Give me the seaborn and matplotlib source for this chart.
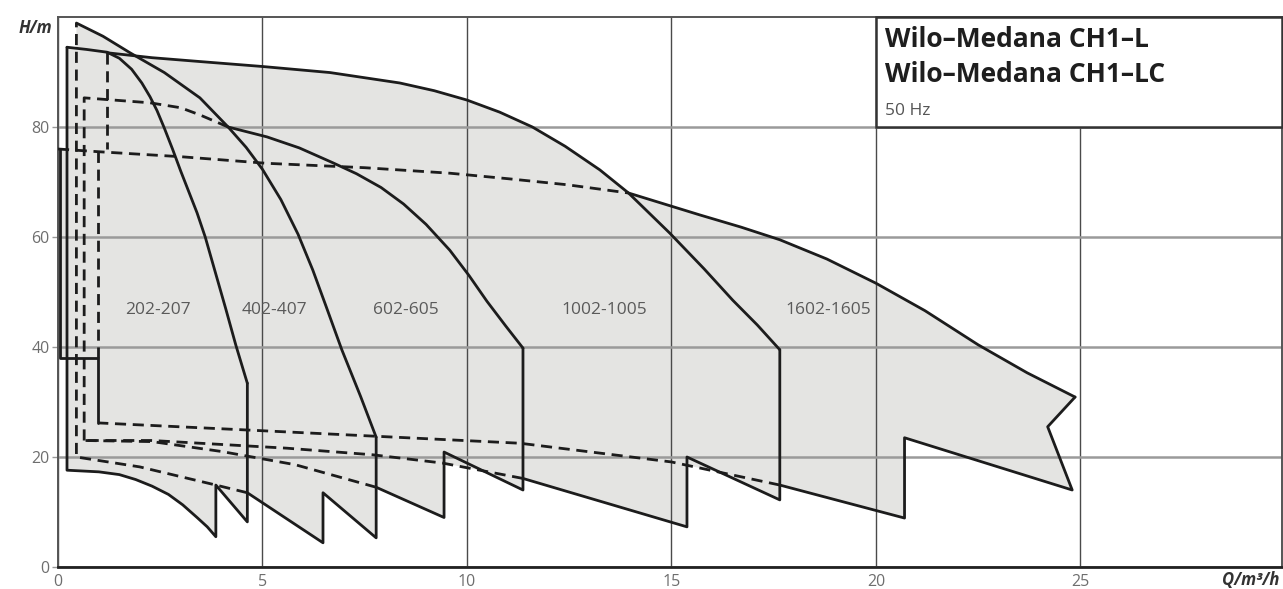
import matplotlib
matplotlib.use("Agg")
import matplotlib.pyplot as plt
from matplotlib.patches import Rectangle
import seaborn as sns

sns.set_theme(style="white")
plt.rcParams["font.family"] = ["Open Sans", "DejaVu Sans"]

LINE = "#1c1c1c"
FILL = "#e4e4e2"
DASH = (0, (4, 2.4))

# ---- data (Q in m3/h, H in m) ----
# 202-207
q202_top = [0.22, 0.7, 1.2, 1.5, 1.8, 2.05, 2.25, 2.42, 2.6, 2.8, 3.0, 3.2, 3.4,
            3.6, 3.85, 4.1, 4.35, 4.63]
h202_top = [94.5, 94.1, 93.6, 92.5, 90.5, 88.0, 85.5, 83.0, 79.8, 76.0, 72.0, 68.2,
            64.4, 60.0, 53.5, 47.0, 40.3, 33.4]
q202_bot = [4.63, 4.63, 3.86, 3.86, 3.65, 3.4, 3.05, 2.7, 2.3, 1.9, 1.5, 1.0, 0.22, 0.22]
h202_bot = [33.4, 8.2, 14.9, 5.5, 7.3, 9.0, 11.3, 13.2, 14.7, 15.9, 16.8, 17.3, 17.6, 94.5]

# 402-407
q402_top = [0.45, 1.1, 1.76, 2.6, 3.47, 4.16, 4.6, 5.0, 5.45, 5.87, 6.23, 6.55, 6.94,
            7.4, 7.78]
h402_top = [98.9, 96.5, 93.5, 89.9, 85.3, 80.0, 76.3, 72.3, 66.8, 60.5, 54.0, 47.5,
            39.5, 31.0, 23.6]
q402_teeth = [7.78, 7.78, 6.48, 6.48, 4.63]
h402_teeth = [23.6, 5.3, 13.5, 4.4, 13.5]
q402_lc = [4.63, 3.86, 2.0, 0.45, 0.45]
h402_lc = [13.5, 14.9, 18.2, 20.0, 98.9]

# 602-605
q602_lc_top = [0.64, 0.64, 2.25, 3.0, 3.47, 4.16]
h602_lc_top = [23.0, 85.3, 84.4, 83.5, 82.2, 80.0]
q602_top = [4.16, 5.11, 5.9, 6.72, 7.3, 7.9, 8.45, 9.0, 9.58, 10.05, 10.49, 10.95, 11.37]
h602_top = [80.0, 78.2, 76.2, 73.5, 71.5, 69.0, 66.0, 62.3, 57.6, 53.0, 48.3, 43.8, 39.8]
q602_teeth = [11.37, 11.37, 9.44, 9.44, 7.78]
h602_teeth = [39.8, 14.0, 20.9, 9.0, 14.5]
q602_lc = [7.78, 5.8, 4.0, 2.3, 0.64]
h602_lc = [14.5, 18.6, 21.0, 22.8, 23.0]

# 1002-1005
q1002_top = [1.2, 2.3, 3.47, 5.0, 6.65, 8.36, 9.2, 10.0, 10.8, 11.6, 12.4, 13.25,
             13.95, 14.96, 15.8, 16.5, 17.1, 17.65]
h1002_top = [93.5, 92.6, 91.9, 91.0, 89.9, 88.0, 86.6, 84.9, 82.7, 80.0, 76.5, 72.2,
             68.0, 60.7, 54.2, 48.5, 44.0, 39.5]
q1002_teeth = [17.65, 17.65, 15.38, 15.38, 11.37]
h1002_teeth = [39.5, 12.2, 20.0, 7.3, 16.1]
q1002_lc = [11.37, 9.4, 7.7, 5.6, 2.3, 0.7]
h1002_lc = [16.1, 18.9, 20.4, 21.6, 23.0, 23.0]
q1002_left = [1.2, 1.2]
h1002_left = [93.5, 76.0]

# 1602-1605
q1602_lc_top = [0.0, 1.0, 3.0, 5.1, 7.5, 9.58, 11.0, 12.45, 13.95]
h1602_lc_top = [76.0, 75.5, 74.6, 73.4, 72.6, 71.6, 70.6, 69.5, 68.0]
q1602_top = [13.95, 15.0, 15.7, 16.7, 17.65, 18.8, 20.0, 21.2, 22.5, 23.7, 24.87]
h1602_top = [68.0, 65.6, 64.0, 61.8, 59.5, 56.0, 51.6, 46.6, 40.4, 35.3, 30.9]
q1602_teeth = [24.87, 24.2, 24.8, 20.7, 20.7, 17.65]
h1602_teeth = [30.9, 25.5, 14.0, 23.5, 8.9, 14.9]
q1602_lc = [17.65, 15.0, 11.3, 4.65, 0.98]
h1602_lc = [14.9, 19.1, 22.5, 24.9, 26.2]
q1602_left = [0.98, 0.98, 0.05, 0.05]
h1602_left = [26.2, 38.0, 38.0, 76.0]
q1602_lc_left = [0.98, 0.98]
h1602_lc_left = [38.0, 75.5]

series_labels = ["202-207", "402-407", "602-605", "1002-1005", "1602-1605"]
label_q = [2.45, 5.29, 8.5, 13.36, 18.83]
label_h = 46.7

x_ticks = [0, 5, 10, 15, 20, 25]
y_ticks = [0, 20, 40, 60, 80]

# ---- figure ----
fig = plt.figure(figsize=(12.83, 5.89), dpi=100)
ax = fig.add_axes([58 / 1283, 1 - 567 / 589, 1224 / 1283, 550 / 589])
ax.set_xlim(0, 29.93)
ax.set_ylim(0, 100)

# gray envelope (union of the five ranges)
polys = [
    (q202_top + q202_bot, h202_top + h202_bot),
    (q402_top + q402_teeth + q402_lc, h402_top + h402_teeth + h402_lc),
    (q602_lc_top + q602_top + q602_teeth + q602_lc,
     h602_lc_top + h602_top + h602_teeth + h602_lc),
    (q1002_top + q1002_teeth + q1002_lc, h1002_top + h1002_teeth + h1002_lc),
    (q1602_lc_top + q1602_top + q1602_teeth + q1602_lc + q1602_left,
     h1602_lc_top + h1602_top + h1602_teeth + h1602_lc + h1602_left),
]
for qq, hh in polys:
    ax.fill(qq, hh, color=FILL, lw=0, zorder=1)


def draw(q, h, dashed=False):
    sns.lineplot(x=q, y=h, ax=ax, sort=False, estimator=None, color=LINE,
                 lw=2.0, linestyle=DASH if dashed else "-", zorder=4)


solid = [
    (q202_top, h202_top), (q202_bot, h202_bot),
    (q402_top, h402_top), (q402_teeth, h402_teeth),
    (q602_top, h602_top), (q602_teeth, h602_teeth),
    (q1002_top, h1002_top), (q1002_teeth, h1002_teeth),
    (q1602_top, h1602_top), (q1602_teeth, h1602_teeth),
    (q1602_left, h1602_left),
]
dashed = [
    (q402_lc, h402_lc), (q602_lc_top, h602_lc_top), (q602_lc, h602_lc),
    (q1002_lc, h1002_lc), (q1002_left, h1002_left),
    (q1602_lc_top, h1602_lc_top), (q1602_lc, h1602_lc),
    (q1602_lc_left, h1602_lc_left),
]
for q, h in solid:
    draw(q, h)
for q, h in dashed:
    draw(q, h, dashed=True)

for name, q in zip(series_labels, label_q):
    ax.text(q, label_h, name, ha="center", va="center", fontsize=12.5,
            color="#5a5a5a", zorder=5)

# grid, ticks, spines
ax.set_xticks(x_ticks)
ax.set_yticks(y_ticks)
ax.set_axisbelow("line")
ax.grid(axis="x", color="#4a4a4a", lw=1.0)
ax.grid(axis="y", color="#9a9a9a", lw=1.8)
ax.tick_params(axis="y", length=4, width=1, color="#999999", labelsize=11.5,
               labelcolor="#6e6e6e", pad=2, left=True)
ax.tick_params(axis="x", length=0, labelsize=11.5, labelcolor="#6e6e6e", pad=5)
for side in ["top", "left", "right"]:
    ax.spines[side].set_color("#555555")
    ax.spines[side].set_linewidth(1.4)
ax.spines["bottom"].set_color("#222222")
ax.spines["bottom"].set_linewidth(2.0)
ax.set_xlabel("")
ax.set_ylabel("")

# title box
ax.add_patch(Rectangle((20, 80), 9.93, 20, facecolor="white", edgecolor="#333333",
                       lw=1.8, zorder=3, clip_on=False))
ax.text(20.22, 94.5, "Wilo–Medana CH1–L", fontsize=19, fontweight="bold",
        color="#1e1e1e", va="baseline", zorder=5)
ax.text(20.22, 88.2, "Wilo–Medana CH1–LC", fontsize=19, fontweight="bold",
        color="#1e1e1e", va="baseline", zorder=5)
ax.text(20.22, 82.2, "50 Hz", fontsize=12.5, color="#555555", va="baseline", zorder=5)

fig.text(52 / 1283, 1 - 28 / 589, "H/m", ha="right", va="center", fontsize=12,
         fontstyle="italic", fontweight="bold", color="#333333")
fig.text(1222 / 1283, 1 - 580 / 589, "Q/m³/h", ha="left", va="center", fontsize=12,
         fontstyle="italic", fontweight="bold", color="#333333")

fig.savefig("out.png", dpi=100, facecolor="white")
